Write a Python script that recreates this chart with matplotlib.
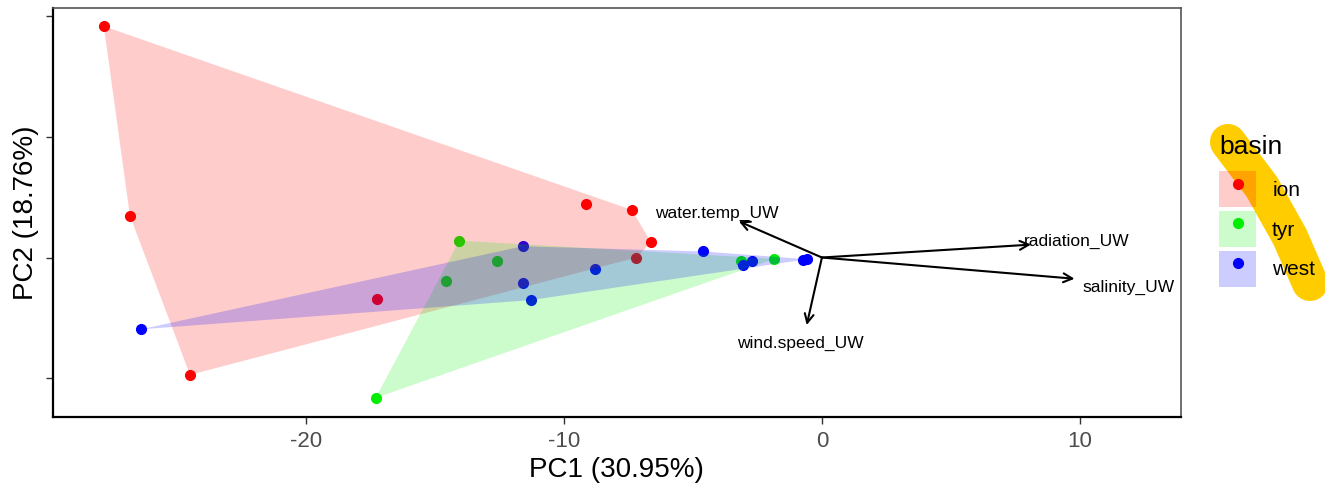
import matplotlib
matplotlib.use("Agg")
import matplotlib.pyplot as plt
from matplotlib.patches import Patch, Polygon
from matplotlib.lines import Line2D
from matplotlib.legend_handler import HandlerTuple

plt.rcParams['font.family'] = ['Liberation Sans', 'DejaVu Sans']
plt.rcParams['axes.unicode_minus'] = False

# PCA scores, one pair of lists per basin
basins = ['ion', 'tyr', 'west']
colors = {'ion': '#FF0000', 'tyr': '#00EE00', 'west': '#0000FF'}

ion_pc1 = [-27.83, -26.82, -24.49, -9.15, -7.36, -6.63, -7.19, -17.23]
ion_pc2 = [19.17, 3.47, -9.73, 4.46, 3.94, 1.26, 0.0, -3.41]

tyr_pc1 = [-14.05, -12.58, -14.55, -17.29, -3.12, -1.84]
tyr_pc2 = [1.40, -0.31, -1.98, -11.63, -0.27, -0.11]

west_pc1 = [-11.60, -8.79, -11.60, -11.29, -26.39, -4.59, -3.05, -2.71, -0.72, -0.58]
west_pc2 = [0.93, -0.99, -2.15, -3.53, -5.95, 0.50, -0.66, -0.31, -0.19, -0.14]

scores = {'ion': (ion_pc1, ion_pc2), 'tyr': (tyr_pc1, tyr_pc2), 'west': (west_pc1, west_pc2)}

# loadings arrows (end points) and where their labels sit
var_names = ['water.temp_UW', 'radiation_UW', 'salinity_UW', 'wind.speed_UW']
arrow_x = [-3.22, 8.10, 9.79, -0.59]
arrow_y = [3.0, 1.07, -1.76, -5.6]
label_x = [-4.07, 9.88, 11.87, -0.85]
label_y = [3.64, 1.30, -2.45, -7.1]


def hull(xs, ys):
    pts = sorted(set(zip(xs, ys)))
    def cross(o, a, b):
        return (a[0] - o[0]) * (b[1] - o[1]) - (a[1] - o[1]) * (b[0] - o[0])
    lower, upper = [], []
    for p in pts:
        while len(lower) >= 2 and cross(lower[-2], lower[-1], p) <= 0:
            lower.pop()
        lower.append(p)
    for p in reversed(pts):
        while len(upper) >= 2 and cross(upper[-2], upper[-1], p) <= 0:
            upper.pop()
        upper.append(p)
    return lower[:-1] + upper[:-1]


fig = plt.figure(figsize=(13.25, 4.88), dpi=100)
ax = fig.add_axes([0.040, 0.146, 0.851, 0.838])

# points first, hull fills on top (like the ggplot layer order)
for b in basins:
    x, y = scores[b]
    ax.plot(x, y, 'o', color=colors[b], ms=7, ls='', zorder=2)
for b in basins:
    x, y = scores[b]
    ax.add_patch(Polygon(hull(x, y), closed=True, facecolor=colors[b],
                         alpha=0.2, edgecolor='none', zorder=3))

for ex, ey, lx, ly, name in zip(arrow_x, arrow_y, label_x, label_y, var_names):
    ax.annotate('', xy=(ex, ey), xytext=(0, 0),
                arrowprops=dict(arrowstyle='->', lw=1.5, color='black',
                                mutation_scale=16, shrinkA=0, shrinkB=0),
                zorder=4)
    ax.text(lx, ly, name, ha='center', va='center', fontsize=12.5, zorder=5)

ax.set_xlim(-29.8, 13.9)
ax.set_ylim(-13.2, 20.7)
ax.set_xticks([-20, -10, 0, 10])
ax.set_yticks([-10, 0, 10, 20])
ax.set_yticklabels([])
ax.tick_params(axis='both', length=5, width=1, color='#333333',
               labelsize=16, labelcolor='#4D4D4D', pad=5)
for s in ['left', 'bottom']:
    ax.spines[s].set_color('black')
    ax.spines[s].set_linewidth(1.6)
for s in ['top', 'right']:
    ax.spines[s].set_color('#555555')
    ax.spines[s].set_linewidth(1.2)

ax.set_xlabel('PC1 (30.95%)', fontsize=20, labelpad=4)
ax.set_ylabel('PC2 (18.76%)', fontsize=20, labelpad=0)

# yellow highlighter stroke behind the legend
hx = [1228, 1262, 1290, 1310]
hy = [142, 187, 237, 283]
fig.add_artist(Line2D([v / 1325 for v in hx], [1 - v / 488 for v in hy],
                      transform=fig.transFigure, color='#FFCC00', lw=26,
                      solid_capstyle='round', solid_joinstyle='round', zorder=0))

handles = [(Patch(facecolor=colors[b], alpha=0.2, edgecolor='none'),
            Line2D([], [], marker='o', color=colors[b], ls='', ms=7))
           for b in basins]
leg = fig.legend(handles, basins, title='basin', loc='upper left',
                 bbox_to_anchor=(1219 / 1325, 1 - 135 / 488),
                 frameon=False, fontsize=15, title_fontsize=19,
                 handlelength=1.78, handleheight=2.25, labelspacing=0.2,
                 handletextpad=0.77, borderaxespad=0, borderpad=0,
                 handler_map={tuple: HandlerTuple(ndivide=1, pad=0)})
leg._legend_box.align = 'left'
leg._legend_box.sep = 9
leg.set_zorder(5)

fig.savefig('out.png', dpi=100)
